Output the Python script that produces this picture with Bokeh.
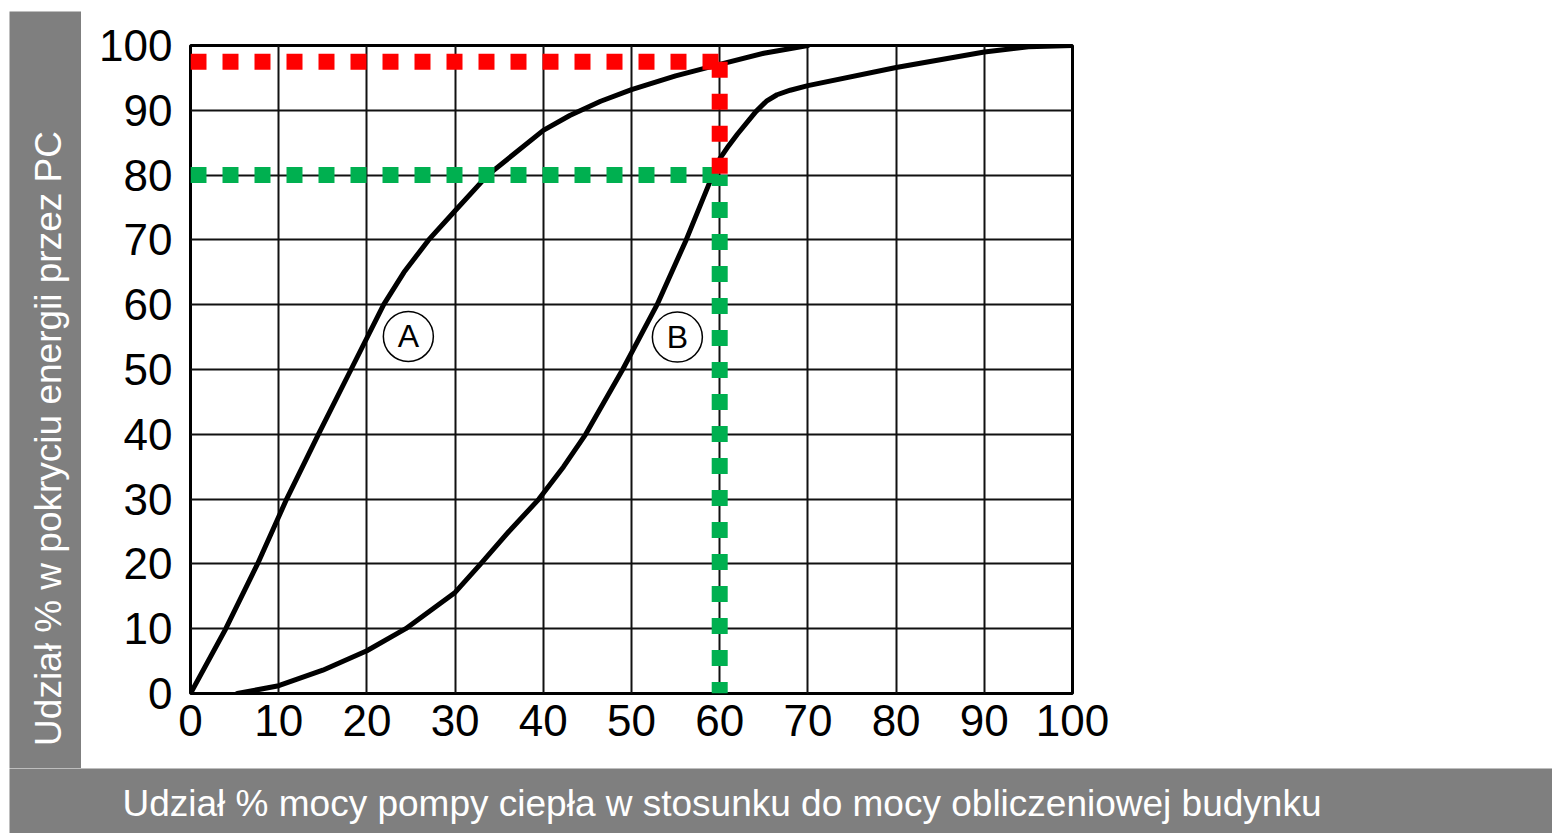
from bokeh.plotting import figure
from bokeh.layouts import column, row
from bokeh.models import FixedTicker, Range1d, Spacer
from bokeh.embed import file_html
from bokeh.resources import INLINE
from bokeh.core.properties import value

# ---------------- data ----------------
x_ticks = [0, 10, 20, 30, 40, 50, 60, 70, 80, 90, 100]
y_ticks = [0, 10, 20, 30, 40, 50, 60, 70, 80, 90, 100]

curve_a_x = [0, 4.0, 7.6, 10.9, 14.5, 18.2, 21.9, 24.2, 27.0, 30.0, 33.7, 40.0, 43.0, 46.5, 50.0, 55.0, 60.0, 65.0, 70.0]
curve_a_y = [0, 10, 20, 30, 40, 50, 60, 65, 70, 74.5, 80, 86.9, 89.2, 91.4, 93.2, 95.3, 97.1, 98.8, 100]

curve_b_x = [5.3, 10.0, 15.0, 20.0, 24.4, 30.0, 32.9, 36.1, 39.5, 42.3, 44.8, 49.0, 52.9, 56.2, 59.2, 60.0, 61.0,
             62.0, 64.1, 65.3, 66.5, 68.0, 70.0, 80.0, 90.0, 95.0, 100.0]
curve_b_y = [0, 1.2, 3.6, 6.6, 10, 15.6, 20, 25, 30, 35, 40, 50, 60, 70, 80, 82.5, 84.5,
             86.3, 89.8, 91.4, 92.4, 93.1, 93.8, 96.6, 99.0, 99.8, 100]

marker_labels = ["A", "B"]
marker_x = [24.7, 55.2]
marker_y = [55.1, 55.0]

target_power = 60      # % of design power
red_level = 97.5       # energy share at 60 % power (curve A)
green_level = 80       # energy share at 60 % power (curve B)

x_label = "Udział % mocy pompy ciepła w stosunku do mocy obliczeniowej budynku"
y_label = "Udział % w pokryciu energii przez PC"

# ---------------- style ----------------
GREY = "#7f7f7f"
FONT = "Liberation Sans"
RED = "#ff0000"
GREEN = "#00b050"

# ---------------- main chart ----------------
p = figure(width=1471, height=768, x_range=Range1d(0, 100), y_range=Range1d(0, 100),
           output_backend="svg", toolbar_location=None,
           min_border_left=109, min_border_right=480, min_border_top=45, min_border_bottom=75)
p.background_fill_color = "white"
p.border_fill_color = "white"
p.outline_line_color = "#000000"
p.outline_line_width = 3

p.xaxis.ticker = FixedTicker(ticks=x_ticks)
p.yaxis.ticker = FixedTicker(ticks=y_ticks)
for ax in (p.xaxis, p.yaxis):
    ax.axis_line_color = None
    ax.major_tick_line_color = None
    ax.minor_tick_line_color = None
    ax.major_tick_out = 0
    ax.major_tick_in = 0
    ax.major_label_text_font = FONT
    ax.major_label_text_font_size = "44px"
    ax.major_label_text_color = "#000000"
p.xaxis.major_label_standoff = 11
p.yaxis.major_label_standoff = 18

p.xgrid.ticker = FixedTicker(ticks=x_ticks)
p.ygrid.ticker = FixedTicker(ticks=y_ticks)
p.grid.grid_line_color = "#111111"
p.grid.grid_line_width = 2

# curves
p.line(curve_a_x, curve_a_y, line_color="black", line_width=5, line_join="round", line_cap="round")
p.line(curve_b_x, curve_b_y, line_color="black", line_width=5, line_join="round", line_cap="round")

# dotted guide lines
p.line([0, target_power], [green_level, green_level], line_color=GREEN, line_width=16,
       line_dash="16 16", line_cap="butt")
p.line([target_power, target_power], [green_level, 0], line_color=GREEN, line_width=16,
       line_dash="16 16", line_dash_offset=5, line_cap="butt")
p.line([0, target_power], [red_level, red_level], line_color=RED, line_width=16,
       line_dash="16 16", line_cap="butt")
p.line([target_power, target_power], [red_level, green_level], line_color=RED, line_width=16,
       line_dash="16 16", line_cap="butt")

# circled curve labels
p.scatter(marker_x, marker_y, marker="circle", size=50, fill_color="white",
          line_color="black", line_width=1.5)
p.text(marker_x, marker_y, text=marker_labels, text_align="center", text_baseline="middle",
       text_font=value(FONT), text_font_size="32px", text_color="black")

# ---------------- left grey bar with y label ----------------
left = figure(width=72, height=757, x_range=Range1d(9, 81), y_range=Range1d(65, 822),
              output_backend="svg", toolbar_location=None,
              min_border_left=0, min_border_right=0, min_border_top=0, min_border_bottom=0,
              x_axis_type=None, y_axis_type=None)
left.background_fill_color = GREY
left.border_fill_color = GREY
left.outline_line_color = None
left.grid.visible = False
left.text([48], [395], text=[y_label], angle=1.5707963, text_align="center", text_baseline="middle",
          text_font=value(FONT), text_font_size="37px", text_color="white")

# ---------------- bottom grey bar with x label ----------------
bottom = figure(width=1543, height=65, x_range=Range1d(9, 1552), y_range=Range1d(0, 65),
                output_backend="svg", toolbar_location=None,
                min_border_left=0, min_border_right=0, min_border_top=0, min_border_bottom=0,
                x_axis_type=None, y_axis_type=None)
bottom.background_fill_color = GREY
bottom.border_fill_color = GREY
bottom.outline_line_color = None
bottom.grid.visible = False
bottom.text([122], [30], text=[x_label], text_align="left", text_baseline="middle",
            text_font=value(FONT), text_font_size="37px", text_color="white")

left_col = column(Spacer(width=72, height=11), left, spacing=0)
top_row = row(Spacer(width=9, height=768), left_col, p, spacing=0)
bottom_row = row(Spacer(width=9, height=65), bottom, spacing=0)
layout = column(top_row, bottom_row, spacing=0)

open("out.html", "w").write(file_html(layout, INLINE))
